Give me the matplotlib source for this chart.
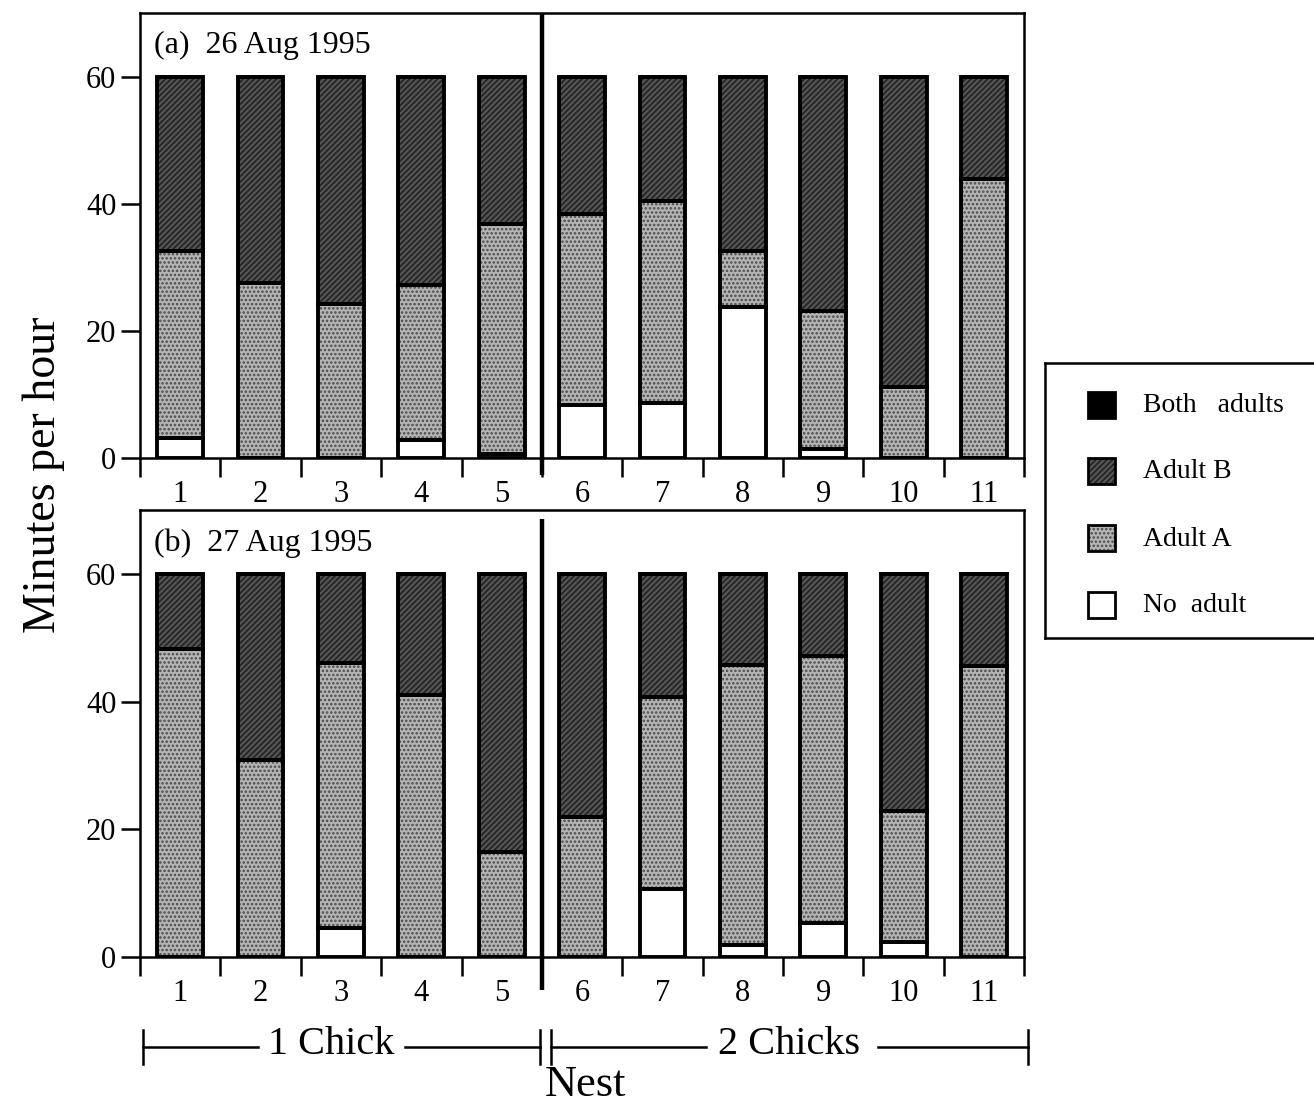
import numpy as np
import matplotlib
matplotlib.use("Agg")
import matplotlib.pyplot as plt
from matplotlib.patches import Rectangle

plt.rcParams['font.family'] = ['Liberation Serif', 'DejaVu Serif']
plt.rcParams['hatch.linewidth'] = 1.2

# nests 1-5 had one chick, 6-11 had two
nests = [str(n) for n in range(1, 12)]
series = ['No adult', 'Adult A', 'Adult B', 'Both adults']

# minutes per hour, 26 Aug 1995
no_adult_a = [3.1, 0, 0, 2.8, 0.7, 8.4, 8.7, 23.7, 1.4, 0, 0]
adult_a_a = [29.5, 27.6, 24.2, 24.4, 36.2, 30.0, 31.7, 8.9, 21.8, 11.2, 43.9]
adult_b_a = [27.4, 32.4, 35.8, 32.8, 23.1, 21.6, 19.6, 27.4, 36.8, 48.8, 16.1]
both_a = [0, 0, 0, 0, 0, 0, 0, 0, 0, 0, 0]

# minutes per hour, 27 Aug 1995
no_adult_b = [0, 0, 4.6, 0, 0, 0, 10.6, 1.9, 5.3, 2.4, 0]
adult_a_b = [48.2, 30.9, 41.4, 41.1, 16.4, 21.9, 30.1, 43.8, 41.8, 20.4, 45.6]
adult_b_b = [11.8, 29.1, 14.0, 18.9, 43.6, 38.1, 19.3, 14.3, 12.9, 37.2, 14.4]
both_b = [0, 0, 0, 0, 0, 0, 0, 0, 0, 0, 0]

panel_titles = ['(a)  26 Aug 1995', '(b)  27 Aug 1995']
yticks = [0, 20, 40, 60]

# fill colour, hatch, hatch colour for each category
styles = {
    'No adult': ('white', None, 'white'),
    'Adult A': ('#b4b4b4', '....', '#4a4a4a'),
    'Adult B': ('#555555', '//////', '#222222'),
    'Both adults': ('black', None, 'black'),
}

fig = plt.figure(figsize=(13.14, 11.09), dpi=100)
ax_a = fig.add_axes([0.1065, 0.587, 0.673, 0.401])
ax_b = fig.add_axes([0.1065, 0.137, 0.673, 0.403])

x = np.arange(1, 12)
width = 0.57


def draw_panel(ax, data, title, div_bottom, div_top):
    bottom = np.zeros(len(x))
    for name, vals in zip(series, data):
        vals = np.asarray(vals, dtype=float)
        fc, hatch, hc = styles[name]
        ax.bar(x, vals, width, bottom=bottom, color=fc, hatch=hatch,
               edgecolor=hc, linewidth=0, zorder=2)
        ax.bar(x, vals, width, bottom=bottom, fill=False,
               edgecolor='black', linewidth=2.8, zorder=3)
        bottom += vals

    ax.set_xlim(0.5, 11.5)
    ax.set_ylim(0, 70)
    ax.set_yticks(yticks)
    ax.set_xticks(x)
    ax.set_xticklabels(nests)
    ax.set_xticks(np.arange(0.5, 12, 1), minor=True)
    ax.tick_params(axis='x', which='major', length=0, pad=16, labelsize=22)
    ax.tick_params(axis='x', which='minor', length=14, width=1.8,
                   direction='out')
    ax.tick_params(axis='y', length=14, width=1.8, labelsize=22, pad=3)
    for s in ax.spines.values():
        s.set_linewidth(1.8)

    # divider between one-chick and two-chick nests
    ax.plot([5.5, 5.5], [div_bottom, div_top], color='black', lw=3.2,
            clip_on=False, zorder=5, solid_capstyle='butt')
    ax.text(0.016, 0.96, title, transform=ax.transAxes, fontsize=23,
            ha='left', va='top')


draw_panel(ax_a, [no_adult_a, adult_a_a, adult_b_a, both_a],
           panel_titles[0], -2.7, 70)
draw_panel(ax_b, [no_adult_b, adult_a_b, adult_b_b, both_b],
           panel_titles[1], -5.2, 68.6)

fig.text(0.033, 0.572, 'Minutes per hour', rotation=90, fontsize=33,
         ha='center', va='center')

# group brackets under the lower panel, plus the axis title
brk = fig.add_axes([0, 0, 1, 1], facecolor='none')
brk.set_axis_off()
brk.set_xlim(0, 1314)
brk.set_ylim(1109, 0)
groups = [(143, 540, '1 Chick', 331, 258, 405),
          (551, 1028, '2 Chicks', 789, 706, 878)]
for x0, x1, label, xl, g0, g1 in groups:
    brk.plot([x0, g0], [1047, 1047], color='black', lw=1.8)
    brk.plot([g1, x1], [1047, 1047], color='black', lw=1.8)
    brk.plot([x0, x0], [1030, 1064], color='black', lw=1.8)
    brk.plot([x1, x1], [1030, 1064], color='black', lw=1.8)
    brk.text(xl, 1044, label, fontsize=29, ha='center', va='center')
brk.text(585, 1096, 'Nest', fontsize=32, ha='center', va='baseline')

# legend box, its right side runs off the page
leg = fig.add_axes([1045 / 1314, 1 - 638 / 1109, 280 / 1314, 275 / 1109])
leg.set_xlim(0, 280)
leg.set_ylim(275, 0)
leg.set_xticks([])
leg.set_yticks([])
for s in leg.spines.values():
    s.set_linewidth(1.8)
rows = [42, 108, 175, 242]
for name, ry in zip(series[::-1], rows):
    fc, hatch, hc = styles[name]
    leg.add_patch(Rectangle((43, ry - 13), 27, 26, facecolor=fc, hatch=hatch,
                            edgecolor=hc, linewidth=0))
    leg.add_patch(Rectangle((43, ry - 13), 27, 26, fill=False,
                            edgecolor='black', linewidth=2))
    lbl = {'Both adults': 'Both   adults', 'No adult': 'No  adult'}.get(name, name)
    leg.text(98, ry + 1, lbl, fontsize=20, ha='left', va='center')

fig.savefig('out.png', dpi=100)
